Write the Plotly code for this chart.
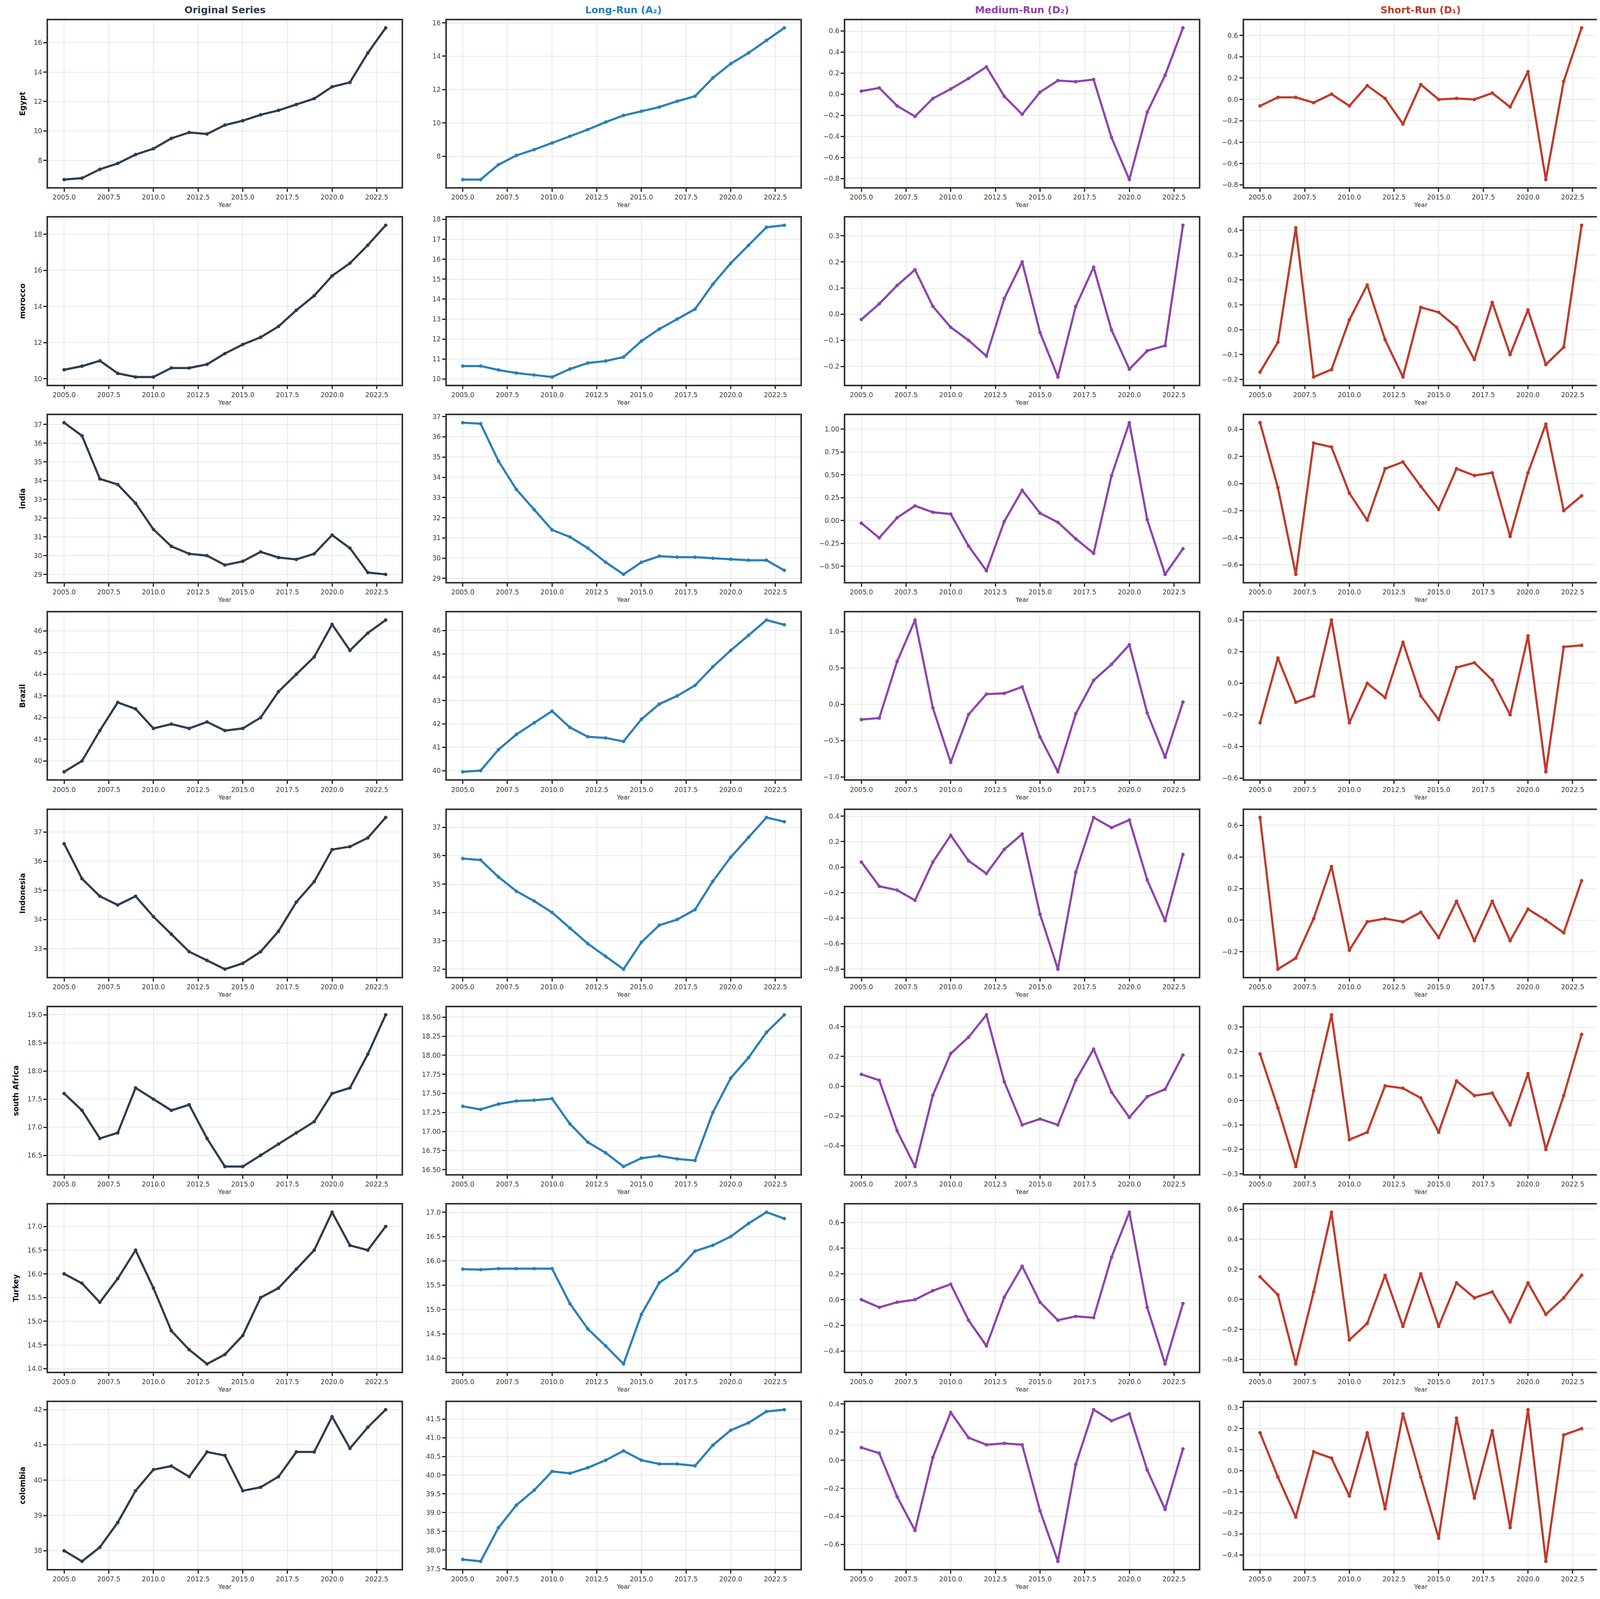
"""
Multi-resolution decomposition grid: original series and its A2 / D2 / D1 parts per country.
"""

import plotly.graph_objects as go
from plotly.subplots import make_subplots

YEARS = list(range(2005, 2024))

COUNTRIES = ["Egypt", "morocco", "india", "Brazil", "Indonesia", "south Africa", "Turkey", "colombia"]

COLUMN_TITLES = ["Original Series", "Long-Run (A₂)", "Medium-Run (D₂)", "Short-Run (D₁)"]
COLUMN_COLORS = ["#2c3e50", "#2980b9", "#8e44ad", "#c0392b"]

# original series
egypt_orig = [6.7, 6.8, 7.4, 7.8, 8.4, 8.8, 9.5, 9.9, 9.8, 10.4, 10.7, 11.1, 11.4, 11.8, 12.2, 13.0, 13.3, 15.3, 17.0]
morocco_orig = [10.5, 10.7, 11.0, 10.3, 10.1, 10.1, 10.6, 10.6, 10.8, 11.4, 11.9, 12.3, 12.9, 13.8, 14.6, 15.7, 16.4, 17.4, 18.5]
india_orig = [37.1, 36.4, 34.1, 33.8, 32.8, 31.4, 30.5, 30.1, 30.0, 29.5, 29.7, 30.2, 29.9, 29.8, 30.1, 31.1, 30.4, 29.1, 29.0]
brazil_orig = [39.5, 40.0, 41.4, 42.7, 42.4, 41.5, 41.7, 41.5, 41.8, 41.4, 41.5, 42.0, 43.2, 44.0, 44.8, 46.3, 45.1, 45.9, 46.5]
indonesia_orig = [36.6, 35.4, 34.8, 34.5, 34.8, 34.1, 33.5, 32.9, 32.6, 32.3, 32.5, 32.9, 33.6, 34.6, 35.3, 36.4, 36.5, 36.8, 37.5]
safrica_orig = [17.6, 17.3, 16.8, 16.9, 17.7, 17.5, 17.3, 17.4, 16.8, 16.3, 16.3, 16.5, 16.7, 16.9, 17.1, 17.6, 17.7, 18.3, 19.0]
turkey_orig = [16.0, 15.8, 15.4, 15.9, 16.5, 15.7, 14.8, 14.4, 14.1, 14.3, 14.7, 15.5, 15.7, 16.1, 16.5, 17.3, 16.6, 16.5, 17.0]
colombia_orig = [38.0, 37.7, 38.1, 38.8, 39.7, 40.3, 40.4, 40.1, 40.8, 40.7, 39.7, 39.8, 40.1, 40.8, 40.8, 41.8, 40.9, 41.5, 42.0]

# long-run approximation A2
egypt_a2 = [6.6, 6.6, 7.5, 8.05, 8.4, 8.8, 9.2, 9.6, 10.05, 10.45, 10.7, 10.95, 11.3, 11.6, 12.7, 13.55, 14.2, 14.95, 15.7]
morocco_a2 = [10.65, 10.65, 10.45, 10.3, 10.2, 10.1, 10.5, 10.8, 10.9, 11.1, 11.9, 12.5, 13.0, 13.5, 14.75, 15.8, 16.7, 17.6, 17.7]
india_a2 = [36.7, 36.65, 34.8, 33.4, 32.4, 31.4, 31.05, 30.5, 29.8, 29.2, 29.8, 30.1, 30.05, 30.05, 30.0, 29.95, 29.9, 29.9, 29.4]
brazil_a2 = [39.95, 40.0, 40.9, 41.55, 42.05, 42.55, 41.85, 41.45, 41.4, 41.25, 42.2, 42.85, 43.2, 43.65, 44.45, 45.15, 45.8, 46.45, 46.25]
indonesia_a2 = [35.9, 35.85, 35.25, 34.75, 34.4, 34.0, 33.45, 32.9, 32.45, 32.0, 32.95, 33.55, 33.75, 34.1, 35.1, 35.95, 36.65, 37.35, 37.2]
safrica_a2 = [17.33, 17.29, 17.36, 17.40, 17.41, 17.43, 17.10, 16.86, 16.72, 16.54, 16.65, 16.68, 16.64, 16.62, 17.25, 17.70, 17.97, 18.30, 18.53]
turkey_a2 = [15.83, 15.82, 15.84, 15.84, 15.84, 15.84, 15.12, 14.6, 14.25, 13.88, 14.9, 15.55, 15.8, 16.2, 16.32, 16.5, 16.77, 17.0, 16.87]
colombia_a2 = [37.75, 37.7, 38.6, 39.2, 39.6, 40.1, 40.05, 40.2, 40.4, 40.65, 40.4, 40.3, 40.3, 40.25, 40.8, 41.2, 41.4, 41.7, 41.75]

# medium-run detail D2
egypt_d2 = [0.03, 0.06, -0.11, -0.21, -0.04, 0.05, 0.15, 0.26, -0.02, -0.19, 0.02, 0.13, 0.12, 0.14, -0.41, -0.81, -0.17, 0.18, 0.63]
morocco_d2 = [-0.02, 0.04, 0.11, 0.17, 0.03, -0.05, -0.10, -0.16, 0.06, 0.20, -0.07, -0.24, 0.03, 0.18, -0.06, -0.21, -0.14, -0.12, 0.34]
india_d2 = [-0.03, -0.19, 0.03, 0.16, 0.09, 0.07, -0.28, -0.55, -0.01, 0.33, 0.08, -0.02, -0.20, -0.36, 0.49, 1.07, 0.01, -0.59, -0.31]
brazil_d2 = [-0.21, -0.19, 0.59, 1.16, -0.05, -0.80, -0.14, 0.14, 0.15, 0.24, -0.45, -0.93, -0.13, 0.33, 0.55, 0.82, -0.12, -0.73, 0.03]
indonesia_d2 = [0.04, -0.15, -0.18, -0.26, 0.04, 0.25, 0.05, -0.05, 0.14, 0.26, -0.37, -0.80, -0.04, 0.39, 0.31, 0.37, -0.10, -0.42, 0.10]
safrica_d2 = [0.08, 0.04, -0.30, -0.54, -0.06, 0.22, 0.33, 0.48, 0.03, -0.26, -0.22, -0.26, 0.04, 0.25, -0.04, -0.21, -0.07, -0.02, 0.21]
turkey_d2 = [0.0, -0.06, -0.02, 0.0, 0.07, 0.12, -0.16, -0.36, 0.02, 0.26, -0.02, -0.16, -0.13, -0.14, 0.33, 0.68, -0.06, -0.50, -0.03]
colombia_d2 = [0.09, 0.05, -0.26, -0.50, 0.02, 0.34, 0.16, 0.11, 0.12, 0.11, -0.36, -0.72, -0.03, 0.36, 0.28, 0.33, -0.07, -0.35, 0.08]

# short-run detail D1
egypt_d1 = [-0.06, 0.02, 0.02, -0.03, 0.05, -0.06, 0.13, 0.01, -0.23, 0.14, 0.0, 0.01, 0.0, 0.06, -0.07, 0.26, -0.75, 0.17, 0.67]
morocco_d1 = [-0.17, -0.05, 0.41, -0.19, -0.16, 0.04, 0.18, -0.04, -0.19, 0.09, 0.07, 0.01, -0.12, 0.11, -0.10, 0.08, -0.14, -0.07, 0.42]
india_d1 = [0.45, -0.03, -0.67, 0.30, 0.27, -0.07, -0.27, 0.11, 0.16, -0.02, -0.19, 0.11, 0.06, 0.08, -0.39, 0.08, 0.44, -0.20, -0.09]
brazil_d1 = [-0.25, 0.16, -0.12, -0.08, 0.40, -0.25, 0.00, -0.09, 0.26, -0.08, -0.23, 0.10, 0.13, 0.02, -0.20, 0.30, -0.56, 0.23, 0.24]
indonesia_d1 = [0.65, -0.31, -0.24, 0.01, 0.34, -0.19, -0.01, 0.01, -0.01, 0.05, -0.11, 0.12, -0.13, 0.12, -0.13, 0.07, 0.0, -0.08, 0.25]
safrica_d1 = [0.19, -0.03, -0.27, 0.04, 0.35, -0.16, -0.13, 0.06, 0.05, 0.01, -0.13, 0.08, 0.02, 0.03, -0.10, 0.11, -0.20, 0.02, 0.27]
turkey_d1 = [0.15, 0.03, -0.43, 0.05, 0.58, -0.27, -0.16, 0.16, -0.18, 0.17, -0.18, 0.11, 0.01, 0.05, -0.15, 0.11, -0.10, 0.01, 0.16]
colombia_d1 = [0.18, -0.03, -0.22, 0.09, 0.06, -0.12, 0.18, -0.18, 0.27, -0.03, -0.32, 0.25, -0.13, 0.19, -0.27, 0.29, -0.43, 0.17, 0.20]

PANELS = [
    [egypt_orig, egypt_a2, egypt_d2, egypt_d1],
    [morocco_orig, morocco_a2, morocco_d2, morocco_d1],
    [india_orig, india_a2, india_d2, india_d1],
    [brazil_orig, brazil_a2, brazil_d2, brazil_d1],
    [indonesia_orig, indonesia_a2, indonesia_d2, indonesia_d1],
    [safrica_orig, safrica_a2, safrica_d2, safrica_d1],
    [turkey_orig, turkey_a2, turkey_d2, turkey_d1],
    [colombia_orig, colombia_a2, colombia_d2, colombia_d1],
]

# y tick step per panel (matplotlib auto locator look-alike)
Y_DTICK = [
    [2, 2, 0.2, 0.2],
    [2, 1, 0.1, 0.1],
    [1, 1, 0.25, 0.2],
    [1, 1, 0.5, 0.2],
    [1, 1, 0.2, 0.2],
    [0.5, 0.25, 0.2, 0.1],
    [0.5, 0.5, 0.2, 0.2],
    [1, 0.5, 0.2, 0.1],
]

FONT = "DejaVu Sans"
TICK_FONT = dict(family=FONT, size=17, color="#444")

# the page body adds an 8px margin, so the figure is kept 16px smaller than the window
fig = make_subplots(
    rows=len(COUNTRIES),
    cols=4,
    horizontal_spacing=0.029,
    vertical_spacing=0.0197,
)

for r, country in enumerate(COUNTRIES, start=1):
    for c in range(1, 5):
        values = PANELS[r - 1][c - 1]
        color = COLUMN_COLORS[c - 1]
        fig.add_trace(
            go.Scatter(
                x=YEARS,
                y=values,
                mode="lines+markers",
                line=dict(color=color, width=5.5),
                marker=dict(color=color, size=9),
                showlegend=False,
            ),
            row=r,
            col=c,
        )

        lo, hi = min(values), max(values)
        pad = (hi - lo) * 0.05
        step = Y_DTICK[r - 1][c - 1]
        if step >= 1:
            fmt = "d"
        elif step == 0.25:
            fmt = ".2f"
        else:
            fmt = ".1f"

        fig.update_yaxes(
            range=[lo - pad, hi + pad],
            dtick=step,
            tick0=0,
            tickformat=fmt,
            row=r,
            col=c,
        )
        fig.update_xaxes(
            range=[2004.1, 2023.9],
            tick0=2005,
            dtick=2.5,
            tickformat=".1f",
            title=dict(text="Year", font=dict(family=FONT, size=16, color="#333"), standoff=2),
            row=r,
            col=c,
        )

    fig.update_yaxes(
        title=dict(text=f"<b>{country}</b>", font=dict(family=FONT, size=19, color="#111"), standoff=18),
        row=r,
        col=1,
    )

# column titles above the first row
for c, (title, color) in enumerate(zip(COLUMN_TITLES, COLUMN_COLORS), start=1):
    axis_id = "" if c == 1 else str(c)
    fig.add_annotation(
        text=f"<b>{title}</b>",
        xref=f"x{axis_id} domain",
        yref=f"y{axis_id} domain",
        x=0.5,
        y=1.0,
        yanchor="bottom",
        yshift=10,
        showarrow=False,
        font=dict(family=FONT, size=25, color=color),
    )

axis_style = dict(
    showline=True,
    linecolor="#333",
    linewidth=3.5,
    mirror=True,
    ticks="outside",
    ticklen=8,
    tickwidth=2.5,
    tickcolor="#222",
    showgrid=True,
    gridcolor="#e8e8e8",
    gridwidth=2,
    zeroline=False,
    tickfont=TICK_FONT,
)
fig.update_xaxes(**axis_style)
fig.update_yaxes(**axis_style)

fig.update_layout(
    width=4108,
    height=4078,
    margin=dict(l=115, r=26, t=44, b=69),
    plot_bgcolor="white",
    paper_bgcolor="white",
    font=dict(family=FONT),
)

fig.write_html("out.html")
